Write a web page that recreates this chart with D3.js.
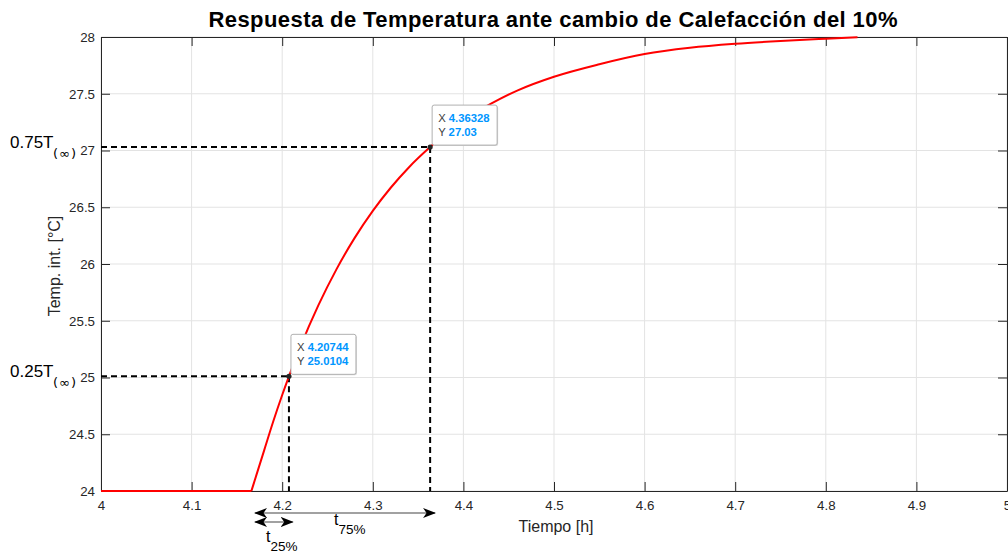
<!DOCTYPE html>
<html>
<head>
<meta charset="utf-8">
<script src="https://cdn.jsdelivr.net/npm/d3@7"></script>
<style>
  html, body { margin: 0; padding: 0; background: #fff; }
  svg { display: block; font-family: "Liberation Sans", Arial, Helvetica, sans-serif; }
</style>
</head>
<body>
<svg id="chart" width="1008" height="553"></svg>
<script>
// Temperature response to a 10% heating step
const timeH = [4.00, 4.166, 4.18, 4.19, 4.20, 4.20744, 4.22, 4.24, 4.26, 4.28, 4.30, 4.32, 4.34,
               4.36328, 4.38, 4.40, 4.43, 4.46, 4.50, 4.55, 4.60, 4.65, 4.70, 4.75, 4.80, 4.835];
const tempC = [24.00, 24.00, 24.356, 24.61, 24.846, 25.0104, 25.27, 25.637, 25.955, 26.23, 26.468, 26.674, 26.853,
               27.03, 27.145, 27.27, 27.41, 27.53, 27.65, 27.76, 27.85, 27.905, 27.94, 27.965, 27.985, 27.998];

// Data tips (25% and 75% of the step)
const tipX = [4.20744, 4.36328];
const tipY = [25.0104, 27.03];
const tipXText = ["4.20744", "4.36328"];
const tipYText = ["25.0104", "27.03"];
const tipLevelLabel = ["0.25T", "0.75T"];

// Ticks
const xTicks = [4, 4.1, 4.2, 4.3, 4.4, 4.5, 4.6, 4.7, 4.8, 4.9, 5];
const xTickLabels = ["4", "4.1", "4.2", "4.3", "4.4", "4.5", "4.6", "4.7", "4.8", "4.9", "5"];
const yTicks = [24, 24.5, 25, 25.5, 26, 26.5, 27, 27.5, 28];
const yTickLabels = ["24", "24.5", "25", "25.5", "26", "26.5", "27", "27.5", "28"];

// Time intervals marked under the axis: [start, end]
const t75Span = [4.170, 4.3687];
const t25Span = [4.170, 4.2116];

const svg = d3.select("#chart");
const L = 101, R = 1007, T = 37, B = 491;
const x = d3.scaleLinear().domain([4, 5]).range([L, R]);
const y = d3.scaleLinear().domain([24, 28]).range([B, T]);
const axisCol = "#262626";

// Grid
const grid = svg.append("g");
grid.selectAll("line.gx").data(xTicks).join("line")
  .attr("x1", d => x(d)).attr("x2", d => x(d)).attr("y1", T).attr("y2", B)
  .attr("stroke", "#e3e3e3").attr("stroke-width", 1);
grid.selectAll("line.gy").data(yTicks).join("line")
  .attr("x1", L).attr("x2", R).attr("y1", d => y(d)).attr("y2", d => y(d))
  .attr("stroke", "#e3e3e3").attr("stroke-width", 1);

// Axes (ticks inward on all four sides)
const tickLen = 9;
const fmtX = (d, i) => xTickLabels[i];
const fmtY = (d, i) => yTickLabels[i];
const axB = svg.append("g").attr("transform", `translate(0,${B})`)
  .call(d3.axisBottom(x).tickValues(xTicks).tickFormat(fmtX).tickSizeInner(-tickLen).tickSizeOuter(0).tickPadding(15));
const axT = svg.append("g").attr("transform", `translate(0,${T})`)
  .call(d3.axisTop(x).tickValues(xTicks).tickFormat("").tickSizeInner(-tickLen).tickSizeOuter(0));
const axL = svg.append("g").attr("transform", `translate(${L},0)`)
  .call(d3.axisLeft(y).tickValues(yTicks).tickFormat(fmtY).tickSizeInner(-tickLen).tickSizeOuter(0).tickPadding(15));
const axR = svg.append("g").attr("transform", `translate(${R},0)`)
  .call(d3.axisRight(y).tickValues(yTicks).tickFormat("").tickSizeInner(-tickLen).tickSizeOuter(0));
[axB, axT, axL, axR].forEach(a => {
  a.select(".domain").attr("stroke", axisCol).attr("stroke-width", 1);
  a.selectAll(".tick line").attr("stroke", axisCol).attr("stroke-width", 1);
  a.selectAll(".tick text").attr("fill", axisCol).style("font-size", "13.3px")
   .style("font-family", "'Liberation Sans', Arial, sans-serif");
});
axL.selectAll(".tick text").attr("x", -6);
axB.selectAll(".tick text").attr("y", 10);

// Dashed guide lines to each data tip
const guides = svg.append("g");
tipX.forEach((tx, i) => {
  guides.append("line").attr("x1", L).attr("x2", x(tx)).attr("y1", y(tipY[i])).attr("y2", y(tipY[i]))
    .attr("stroke", "#000").attr("stroke-width", 2).attr("stroke-dasharray", "6,4");
  guides.append("line").attr("x1", x(tx)).attr("x2", x(tx)).attr("y1", y(tipY[i])).attr("y2", B)
    .attr("stroke", "#000").attr("stroke-width", 2).attr("stroke-dasharray", "6,4");
});

// Response curve: flat stretch before the step, smooth rise after it
const pts = timeH.map((t, i) => [t, tempC[i]]);
const flat = pts.slice(0, 2);
const rise = pts.slice(1);
const lineFlat = d3.line().x(d => x(d[0])).y(d => y(d[1]));
const lineRise = d3.line().x(d => x(d[0])).y(d => y(d[1])).curve(d3.curveMonotoneX);
const curveG = svg.append("g").attr("fill", "none").attr("stroke", "#ff0000")
  .attr("stroke-width", 2).attr("stroke-linejoin", "round");
curveG.append("path").datum(flat).attr("d", lineFlat);
curveG.append("path").datum(rise).attr("d", lineRise);

// Data tip markers and boxes
tipX.forEach((tx, i) => {
  const px = x(tx), py = y(tipY[i]);
  svg.append("circle").attr("cx", px).attr("cy", py).attr("r", 2.6).attr("fill", "#262626");
  const bx = px + 2, by = py - 42, bw = 65, bh = 40;
  svg.append("rect").attr("x", bx + 1).attr("y", by + 1).attr("width", bw).attr("height", bh)
    .attr("rx", 2).attr("fill", "#d8d8d8");
  svg.append("rect").attr("x", bx).attr("y", by).attr("width", bw).attr("height", bh)
    .attr("rx", 2).attr("fill", "#ffffff").attr("stroke", "#b0b0b0").attr("stroke-width", 1);
  const t1 = svg.append("text").attr("x", bx + 6).attr("y", by + 17).style("font-size", "11.3px");
  t1.append("tspan").attr("fill", "#404040").text("X ");
  t1.append("tspan").attr("fill", "#0096ff").attr("font-weight", "bold").text(tipXText[i]);
  const t2 = svg.append("text").attr("x", bx + 6).attr("y", by + 31).style("font-size", "11.3px");
  t2.append("tspan").attr("fill", "#404040").text("Y ");
  t2.append("tspan").attr("fill", "#0096ff").attr("font-weight", "bold").text(tipYText[i]);
});

// Level annotations left of the y axis
tipY.forEach((ty, i) => {
  const py = y(ty);
  svg.append("text").attr("x", 10).attr("y", py + 1).style("font-size", "17px").attr("fill", "#000")
    .text(tipLevelLabel[i]);
  svg.append("text").attr("x", 53).attr("y", py + 11).style("font-size", "13px").attr("fill", "#000")
    .style("font-family", "'DejaVu Sans', sans-serif")
    .attr("textLength", 23).attr("lengthAdjust", "spacing")
    .text("(\u221E)");
});

// Interval arrows below the axis
const defs = svg.append("defs");
["end", "start"].forEach(k => {
  defs.append("marker").attr("id", "ah-" + k)
    .attr("viewBox", "0 -5 13 10").attr("refX", 12).attr("refY", 0)
    .attr("markerUnits", "userSpaceOnUse").attr("markerWidth", 13).attr("markerHeight", 10)
    .attr("orient", k === "end" ? "auto" : "auto-start-reverse")
    .append("path").attr("d", "M0,-5 L13,0 L0,5 L3.5,0 Z").attr("fill", "#000");
});
function spanArrow(span, py) {
  svg.append("line").attr("x1", x(span[0])).attr("x2", x(span[1])).attr("y1", py).attr("y2", py)
    .attr("stroke", "#444").attr("stroke-width", 1.2)
    .attr("marker-start", "url(#ah-start)").attr("marker-end", "url(#ah-end)");
}
spanArrow(t75Span, B + 22);
spanArrow(t25Span, B + 31);
function subLabel(px, py, sub) {
  const t = svg.append("text").attr("x", px).attr("y", py).attr("fill", "#000").style("font-size", "16px");
  t.append("tspan").text("t");
  t.append("tspan").attr("dy", 9).style("font-size", "13.5px").text(sub);
}
subLabel(334, B + 34, "75%");
subLabel(266, B + 51, "25%");

// Titles
svg.append("text").attr("x", 553).attr("y", 27).attr("text-anchor", "middle")
  .attr("font-weight", "bold").style("font-size", "22px").attr("fill", "#000")
  .attr("textLength", 689).attr("lengthAdjust", "spacing")
  .text("Respuesta de Temperatura ante cambio de Calefacción del 10%");
svg.append("text").attr("x", 556).attr("y", 532).attr("text-anchor", "middle")
  .style("font-size", "16px").attr("fill", axisCol).text("Tiempo [h]");
svg.append("text").attr("transform", "translate(60,266) rotate(-90)").attr("text-anchor", "middle")
  .style("font-size", "16px").attr("fill", axisCol).text("Temp. int. [°C]");
</script>
</body>
</html>
